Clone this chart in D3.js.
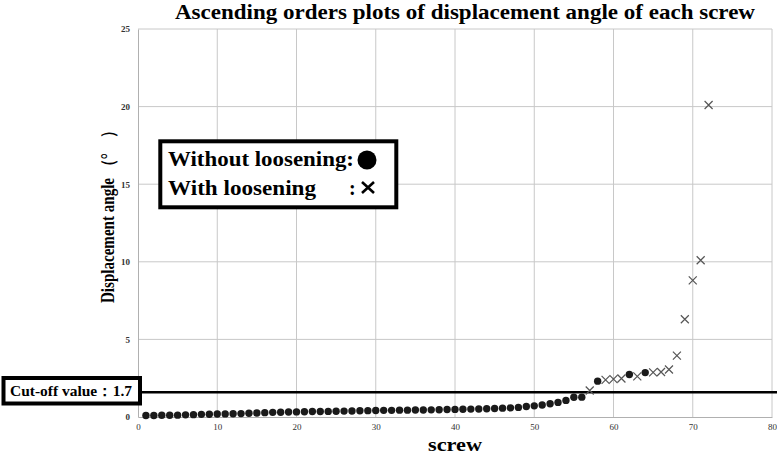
<!DOCTYPE html>
<html><head><meta charset="utf-8">
<script src="https://cdn.jsdelivr.net/npm/d3@7"></script>
<style>body{margin:0;background:#fff}svg{display:block}</style>
</head><body><svg id="c" width="777" height="456"></svg>
<script>
const dotX = [1,2,3,4,5,6,7,8,9,10,11,12,13,14,15,16,17,18,19,20,21,22,23,24,25,26,27,28,29,30,31,32,33,34,35,36,37,38,39,40,41,42,43,44,45,46,47,48,49,50,51,52,53,54,55,56,58,62,64];
const dotY = [0.10,0.10,0.11,0.11,0.12,0.14,0.15,0.17,0.18,0.19,0.20,0.21,0.22,0.24,0.26,0.28,0.30,0.31,0.32,0.33,0.34,0.35,0.35,0.36,0.37,0.38,0.39,0.40,0.41,0.42,0.43,0.43,0.44,0.44,0.45,0.45,0.46,0.47,0.48,0.49,0.50,0.51,0.52,0.53,0.55,0.57,0.59,0.62,0.68,0.72,0.77,0.85,0.94,1.07,1.27,1.28,2.31,2.74,2.86];
const crossX = [57,59,60,61,63,65,66,67,68,69,70,71,72];
const crossY = [1.71,2.39,2.44,2.48,2.62,2.88,2.90,3.06,3.95,6.3,8.8,10.1,20.1];
const xTicks = [0,10,20,30,40,50,60,70,80];
const yTicks = [0,5,10,15,20,25];
const cutoff = 1.6;
const cutoffLabel = "Cut-off value：1.7";
const title = "Ascending orders plots of displacement angle of each screw";
const xLabel = "screw";
const yLabel = "Displacement angle （°　）";
const legendLabels = ["Without loosening:", "With loosening"];

const svg = d3.select("#c");
const serif = "'Liberation Serif','Times New Roman',serif";
const x = d3.scaleLinear().domain([0,80]).range([138,772]);
const y = d3.scaleLinear().domain([0,25]).range([417,29]);

// gridlines
svg.append("g").selectAll("line").data(xTicks.slice(1)).join("line")
  .attr("x1",d=>x(d)).attr("x2",d=>x(d)).attr("y1",y(0)).attr("y2",y(25))
  .attr("stroke","#c8c8c8").attr("stroke-width",1);
svg.append("g").selectAll("line").data(yTicks.slice(1)).join("line")
  .attr("x1",x(0)).attr("x2",x(80)).attr("y1",d=>y(d)).attr("y2",d=>y(d))
  .attr("stroke","#c8c8c8").attr("stroke-width",1);

// axes
const xa = svg.append("g").attr("transform",`translate(0,${y(0)})`)
  .call(d3.axisBottom(x).tickValues(xTicks).tickSize(0).tickPadding(7));
const ya = svg.append("g").attr("transform",`translate(${x(0)},0)`)
  .call(d3.axisLeft(y).tickValues(yTicks).tickSize(0).tickPadding(8));
[xa,ya].forEach(a=>{
  a.select(".domain").attr("stroke","#b0b0b0");
  a.selectAll("text").attr("font-family",serif).attr("font-size",9).attr("fill","#333");
});
ya.selectAll("text").attr("font-weight","bold");

// cut-off line
svg.append("line").attr("x1",140).attr("x2",777).attr("y1",y(cutoff)).attr("y2",y(cutoff))
  .attr("stroke","#000").attr("stroke-width",2.5);

// dots
svg.append("g").selectAll("circle").data(dotX.map((d,i)=>[d,dotY[i]])).join("circle")
  .attr("cx",d=>x(d[0])).attr("cy",d=>y(d[1])).attr("r",3.7).attr("fill","#1a1a1a");

// crosses
const s = 4;
svg.append("g").selectAll("path").data(crossX.map((d,i)=>[d,crossY[i]])).join("path")
  .attr("d",d=>{const cx=x(d[0]),cy=y(d[1]);return `M${cx-s},${cy-s}L${cx+s},${cy+s}M${cx-s},${cy+s}L${cx+s},${cy-s}`;})
  .attr("stroke","#555").attr("stroke-width",1.2).attr("fill","none");

// title
svg.append("text").attr("x",175).attr("y",19)
  .attr("font-family",serif).attr("font-weight","bold").attr("font-size",21)
  .attr("textLength",580).attr("lengthAdjust","spacingAndGlyphs").text(title);
// x label
svg.append("text").attr("x",428).attr("y",451)
  .attr("font-family",serif).attr("font-weight","bold").attr("font-size",18)
  .attr("textLength",54).attr("lengthAdjust","spacingAndGlyphs").text(xLabel);
// y label
svg.append("text").attr("transform","translate(114,303) rotate(-90)")
  .attr("font-family",serif).attr("font-weight","bold").attr("font-size",18)
  .attr("textLength",180).attr("lengthAdjust","spacingAndGlyphs").text(yLabel);

// legend
svg.append("rect").attr("x",160.3).attr("y",141.3).attr("width",236).attr("height",66)
  .attr("fill","#fff").attr("stroke","#000").attr("stroke-width",4);
svg.append("text").attr("x",168).attr("y",166).attr("font-family",serif).attr("font-weight","bold")
  .attr("font-size",20).attr("textLength",186).attr("lengthAdjust","spacingAndGlyphs").text(legendLabels[0]);
svg.append("circle").attr("cx",367).attr("cy",160).attr("r",9.5).attr("fill","#000");
svg.append("text").attr("x",168).attr("y",195).attr("font-family",serif).attr("font-weight","bold")
  .attr("font-size",20).attr("textLength",148).attr("lengthAdjust","spacingAndGlyphs").text(legendLabels[1]);
svg.append("text").attr("x",349).attr("y",195).attr("font-family",serif).attr("font-weight","bold")
  .attr("font-size",20).text(":");
svg.append("path").attr("d","M362,182L374,193M362,193L374,182").attr("stroke","#000").attr("stroke-width",2.6);

// cut-off label
svg.append("rect").attr("x",3.5).attr("y",378).attr("width",136.5).attr("height",25.5)
  .attr("fill","#fff").attr("stroke","#000").attr("stroke-width",4);
svg.append("text").attr("x",10).attr("y",396).attr("font-family",serif)
  .attr("font-weight","bold").attr("font-size",15)
  .attr("textLength",122).attr("lengthAdjust","spacingAndGlyphs").text(cutoffLabel);
</script></body></html>
